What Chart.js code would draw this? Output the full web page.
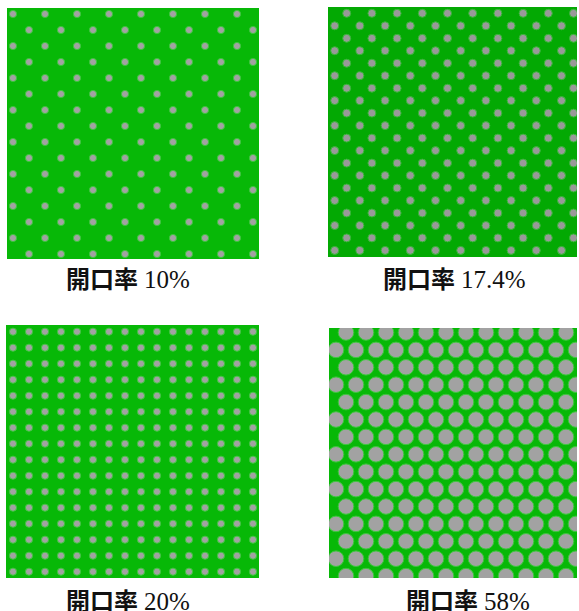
<!DOCTYPE html>
<html>
<head>
<meta charset="utf-8">
<script src="https://cdn.jsdelivr.net/npm/chart.js@4"></script>
<style>
  body { margin:0; background:#fff; width:579px; height:611px; overflow:hidden; position:relative; }
  canvas { position:absolute; }
  .lab { position:absolute; white-space:nowrap; line-height:24px; color:#111; }
  .jp { font-family:"Noto Sans CJK JP", sans-serif; font-weight:bold; font-size:24px; }
  .num { font-family:"Liberation Serif", serif; font-size:25px; margin-left:2px; }
</style>
</head>
<body>
<canvas id="pA" width="252" height="251" style="left:7px;top:8px"></canvas>
<canvas id="pB" width="249" height="250" style="left:328px;top:7px"></canvas>
<canvas id="pC" width="253" height="253" style="left:6px;top:325px"></canvas>
<canvas id="pD" width="248" height="250" style="left:329px;top:328px"></canvas>

<div class="lab" style="left:66px;top:266px"><span class="jp">開口率</span> <span class="num">10%</span></div>
<div class="lab" style="left:383px;top:266px"><span class="jp">開口率</span> <span class="num">17.4%</span></div>
<div class="lab" style="left:66px;top:588px"><span class="jp">開口率</span> <span class="num">20%</span></div>
<div class="lab" style="left:406px;top:588px"><span class="jp">開口率</span> <span class="num">58%</span></div>

<script>
// hole centres, in px from each panel's top-left corner
var rowsA = [6,22,38,54,70,86,102,118,134,150,166,182,198,214,230,246];
var colsA1 = [6,38,70,102,134,166,198,230];
var colsA2 = [22,54,86,118,150,182,214,246];

var rowsB = [6.3,18.8,31.3,43.7,56.2,68.7,81.2,93.6,106.1,118.6,131.1,143.6,156.1,168.5,181,193.5,206,218.5,230.9,243.4];
var colsB1 = [18.7,43.9,69.1,94.3,119.5,144.7,169.9,195.1,220.3,245.5];
var colsB2 = [6.7,31.9,57.1,82.3,107.5,132.7,157.9,183.1,208.3,233.5];

var rowsC = [6.7,22.7,38.7,54.7,70.7,86.7,102.7,118.7,134.7,150.7,166.7,182.7,198.7,214.7,230.7,246.7];
var colsC = [7,23,39,55,71,87,103,119,135,151,167,183,199,215,231,247];

var rowsD = [4.5,21.9,39.3,56.7,74.1,91.5,108.9,126.3,143.7,161.1,178.5,195.9,213.3,230.7,248.1];
var colsD1 = [17,37,57,77,97,117,137,157,177,197,217,237];
var colsD2 = [7,27,47,67,87,107,127,147,167,187,207,227,247];

var greenBg = {
  id: "greenBg",
  beforeDraw: function(chart, args, opts) {
    var a = chart.chartArea, c = chart.ctx;
    c.save();
    c.fillStyle = opts.color;
    c.fillRect(a.left, a.top, a.right - a.left, a.bottom - a.top);
    c.restore();
  }
};

function makePanel(id, rows, colsEven, colsOdd, r, bg, hole, rim) {
  var cv = document.getElementById(id);
  var pts = [];
  rows.forEach(function(y, i) {
    var cols = (i % 2 == 0) ? colsEven : colsOdd;
    cols.forEach(function(x) { pts.push({x: x, y: y}); });
  });
  return new Chart(cv, {
    type: "scatter",
    data: { datasets: [{
      data: pts,
      pointRadius: r,
      pointBackgroundColor: hole,
      pointBorderColor: rim,
      pointBorderWidth: 1,
      clip: 0
    }]},
    options: {
      responsive: false,
      animation: false,
      events: [],
      layout: { padding: 0, autoPadding: false },
      plugins: { legend: {display: false}, tooltip: {enabled: false}, greenBg: {color: bg} },
      scales: {
        x: { display: false, min: 0, max: cv.width },
        y: { display: false, min: 0, max: cv.height, reverse: true }
      }
    },
    plugins: [greenBg]
  });
}

makePanel("pA", rowsA, colsA1, colsA2, 3.6, "#07b807", "#a2a2a2", "#3cc83c");
makePanel("pB", rowsB, colsB1, colsB2, 4.0, "#03a903", "#999999", "#35b835");
makePanel("pC", rowsC, colsC, colsC, 3.6, "#07b807", "#a2a2a2", "#3cc83c");
makePanel("pD", rowsD, colsD1, colsD2, 7.8, "#07b807", "#a2a2a2", "#3cc83c");
</script>
</body>
</html>
